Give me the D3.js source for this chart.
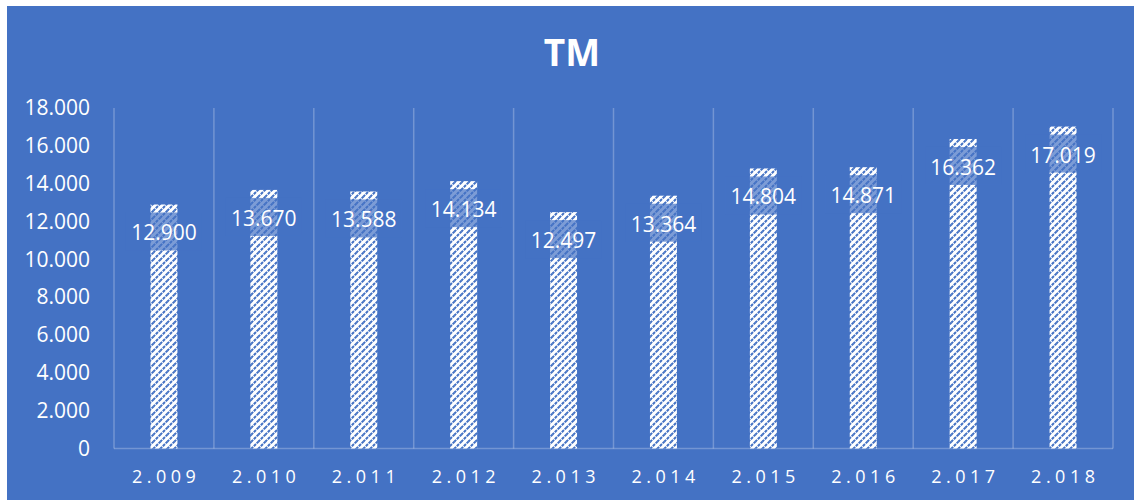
<!DOCTYPE html>
<html>
<head>
<meta charset="utf-8">
<script src="https://cdn.jsdelivr.net/npm/d3@7/dist/d3.min.js"></script>
<style>
  html, body { margin: 0; padding: 0; background: #ffffff; }
  svg { display: block; }
  text { font-family: "Open Sans", "Noto Sans", sans-serif; fill: #ffffff; }
</style>
</head>
<body>
<svg id="chart" width="1134" height="502"></svg>
<script>
const title = "TM";
const categories = ["2.009", "2.010", "2.011", "2.012", "2.013", "2.014", "2.015", "2.016", "2.017", "2.018"];
const values = [12900, 13670, 13588, 14134, 12497, 13364, 14804, 14871, 16362, 17019];
const yTicks = [0, 2000, 4000, 6000, 8000, 10000, 12000, 14000, 16000, 18000];

const svg = d3.select("#chart");
const blue = "#4472C4";

// chart area background
svg.append("rect").attr("x", 7).attr("y", 6).attr("width", 1127).attr("height", 494).attr("fill", blue);

// hatch pattern (wide upward diagonal)
const defs = svg.append("defs");
const pat = defs.append("pattern").attr("id", "hatch").attr("patternUnits", "userSpaceOnUse")
  .attr("width", 7).attr("height", 7);
pat.append("rect").attr("width", 7).attr("height", 7).attr("fill", "#ffffff");
pat.append("path").attr("d", "M-1,8 L8,-1 M-4.5,4.5 L4.5,-4.5 M2.5,11.5 L11.5,2.5")
  .attr("stroke", blue).attr("stroke-width", 2).attr("stroke-dasharray", "3,1");

const x = d3.scaleBand().domain(categories).range([114, 1113]).padding(0);
const y = d3.scaleLinear().domain([0, 18000]).range([448.5, 108]);
const fmt = d3.formatLocale({decimal: ",", thousands: ".", grouping: [3], currency: ["", ""]}).format(",d");

// vertical category gridlines
const grid = svg.append("g");
const bounds = categories.map(c => x(c)).concat([x(categories[categories.length - 1]) + x.bandwidth()]);
grid.selectAll("line.v").data(bounds).join("line")
  .attr("x1", d => d).attr("x2", d => d).attr("y1", y(18000)).attr("y2", y(0))
  .attr("stroke", "#ffffff").attr("stroke-opacity", 0.25).attr("stroke-width", 1.5);
grid.append("line").attr("x1", bounds[0]).attr("x2", bounds[bounds.length - 1])
  .attr("y1", y(0)).attr("y2", y(0))
  .attr("stroke", "#ffffff").attr("stroke-opacity", 0.25).attr("stroke-width", 1.5);

// y axis labels
const yAxis = d3.axisLeft(y).tickValues(yTicks).tickFormat(d => fmt(d)).tickSize(0).tickPadding(0);
const yg = svg.append("g").attr("transform", "translate(90,0)").call(yAxis);
yg.select(".domain").remove();
yg.selectAll("text").attr("font-size", 21).attr("fill", "#ffffff")
  .style("font-family", "'Open Sans', sans-serif");

// x axis labels
const xAxis = d3.axisBottom(x).tickSize(0).tickPadding(0);
const xg = svg.append("g").attr("transform", "translate(0,470)").call(xAxis);
xg.select(".domain").remove();
xg.selectAll("text").attr("font-size", 18).attr("fill", "#ffffff")
  .attr("letter-spacing", "4.5px").attr("dx", "2.25px")
  .style("font-family", "'Open Sans', sans-serif");

// bars
const bw = x.bandwidth() * 0.27;
svg.append("g").selectAll("rect").data(values).join("rect")
  .attr("x", (d, i) => x(categories[i]) + x.bandwidth() / 2 - bw / 2)
  .attr("y", d => y(d))
  .attr("width", bw)
  .attr("height", d => y(0) - y(d))
  .attr("fill", "url(#hatch)");

// data label boxes (semi-transparent) and labels
const lab = svg.append("g");
lab.selectAll("rect").data(values).join("rect")
  .attr("x", (d, i) => x(categories[i]) + x.bandwidth() / 2 - 38)
  .attr("y", d => y(d) + 8)
  .attr("width", 76).attr("height", 38)
  .attr("fill", blue).attr("fill-opacity", 0.7);
lab.selectAll("text").data(values).join("text")
  .attr("x", (d, i) => x(categories[i]) + x.bandwidth() / 2)
  .attr("y", d => y(d) + 28)
  .attr("text-anchor", "middle").attr("dominant-baseline", "central")
  .attr("font-size", 21)
  .text(d => fmt(d));

// title
svg.append("text").attr("x", 572).attr("y", 51)
  .attr("text-anchor", "middle").attr("dominant-baseline", "central")
  .attr("font-size", 37).attr("font-weight", "bold")
  .text(title);
</script>
</body>
</html>
